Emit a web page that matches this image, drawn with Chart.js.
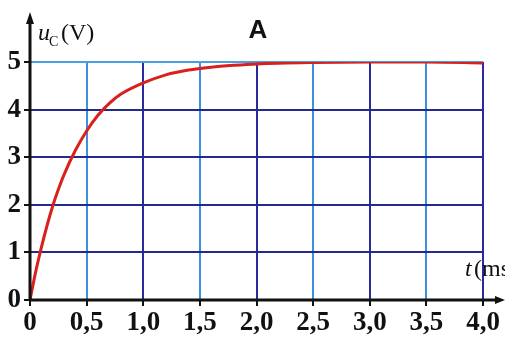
<!DOCTYPE html>
<html>
<head>
    <title>Charge du condensateur</title>
    <script src="https://cdn.jsdelivr.net/npm/chart.js"></script>
    <style>
        body { margin: 0; background: #fff; }
        #wrap { width: 505px; height: 359px; }
    </style>
</head>
<body>
    <div id="wrap"><canvas id="ucChart"></canvas></div>
    <script>
        // t in ms, uC in V
        const times = [0, 0.05, 0.1, 0.15, 0.2, 0.25, 0.3, 0.4, 0.5, 0.6, 0.7, 0.8, 1.0, 1.2, 1.4, 1.6, 1.8, 2.0, 2.5, 3.0, 3.5, 4.0];
        const uC = [0, 0.59, 1.1, 1.56, 1.97, 2.32, 2.63, 3.14, 3.55, 3.88, 4.13, 4.32, 4.56, 4.73, 4.83, 4.89, 4.93, 4.96, 4.99, 5.0, 5.0, 4.98];
        const xTicks = [0, 0.5, 1.0, 1.5, 2.0, 2.5, 3.0, 3.5, 4.0];
        const yTicks = [0, 1, 2, 3, 4, 5];

        const tickFont = { family: 'Liberation Serif', size: 27, weight: 'bold' };

        const axesPlugin = {
            id: 'axesPlugin',
            afterDraw(chart) {
                const ctx = chart.ctx;
                const x0 = chart.scales.x.getPixelForValue(0);
                const y0 = chart.scales.y.getPixelForValue(0);
                ctx.save();
                ctx.strokeStyle = '#111';
                ctx.fillStyle = '#111';
                ctx.lineWidth = 3;
                // axes
                ctx.beginPath();
                ctx.moveTo(x0, y0);
                ctx.lineTo(x0, 20);
                ctx.moveTo(x0, y0);
                ctx.lineTo(500, y0);
                ctx.stroke();
                // arrow heads
                ctx.beginPath();
                ctx.moveTo(x0, 12);
                ctx.lineTo(x0 - 4, 24);
                ctx.lineTo(x0 + 4, 24);
                ctx.closePath();
                ctx.fill();
                ctx.beginPath();
                ctx.moveTo(505, y0);
                ctx.lineTo(495, y0 - 4);
                ctx.lineTo(495, y0 + 4);
                ctx.closePath();
                ctx.fill();

                // labels
                ctx.textBaseline = 'alphabetic';
                ctx.font = 'italic 24px "Liberation Serif"';
                ctx.fillText('u', 38, 40);
                ctx.font = '14px "Liberation Serif"';
                ctx.fillText('C', 49, 46);
                ctx.font = '24px "Liberation Serif"';
                ctx.fillText('(V)', 61, 40);

                ctx.font = 'italic 24px "Liberation Serif"';
                ctx.fillText('t', 465, 276);
                ctx.font = '24px "Liberation Serif"';
                ctx.fillText('(ms', 474, 276);

                ctx.font = 'bold 26px "Liberation Sans"';
                ctx.textAlign = 'center';
                ctx.fillText('A', 258, 38);
                ctx.restore();
            }
        };

        const ctx = document.getElementById('ucChart').getContext('2d');
        new Chart(ctx, {
            type: 'line',
            data: {
                datasets: [{
                    label: 'uC',
                    data: times.map((t, i) => ({ x: t, y: uC[i] })),
                    borderColor: '#d8201c',
                    borderWidth: 3,
                    pointRadius: 0,
                    tension: 0.4,
                    cubicInterpolationMode: 'monotone',
                    fill: false,
                }],
            },
            options: {
                responsive: true,
                maintainAspectRatio: false,
                animation: false,
                layout: { padding: { top: 62, right: 22, left: 0, bottom: 0 } },
                plugins: { legend: { display: false }, tooltip: { enabled: false } },
                scales: {
                    x: {
                        type: 'linear',
                        min: 0,
                        max: 4,
                        afterBuildTicks: (scale) => { scale.ticks = xTicks.map(v => ({ value: v })); },
                        afterFit: (scale) => { scale.height = 59; },
                        border: { display: false },
                        grid: {
                            lineWidth: 2,
                            tickLength: 6,
                            tickColor: '#111',
                            color: (c) => c.index === 0 ? 'rgba(0,0,0,0)' : (c.index % 2 === 1 ? '#3d8fe6' : '#2a2a9e'),
                        },
                        ticks: {
                            padding: 1,
                            color: '#111',
                            font: tickFont,
                            maxRotation: 0,
                            callback: (v) => v === 0 ? '0' : v.toFixed(1).replace('.', ','),
                        },
                    },
                    y: {
                        min: 0,
                        max: 5,
                        afterBuildTicks: (scale) => { scale.ticks = yTicks.map(v => ({ value: v })); },
                        afterFit: (scale) => { scale.width = 30; },
                        border: { display: false },
                        grid: {
                            lineWidth: 2,
                            tickLength: 6,
                            tickColor: '#111',
                            color: (c) => c.index === 0 ? 'rgba(0,0,0,0)' : (c.index === 5 ? '#4a9fe2' : '#232a8c'),
                        },
                        ticks: {
                            padding: 3,
                            color: '#111',
                            font: tickFont,
                        },
                    },
                },
            },
            plugins: [axesPlugin],
        });
    </script>
</body>
</html>
